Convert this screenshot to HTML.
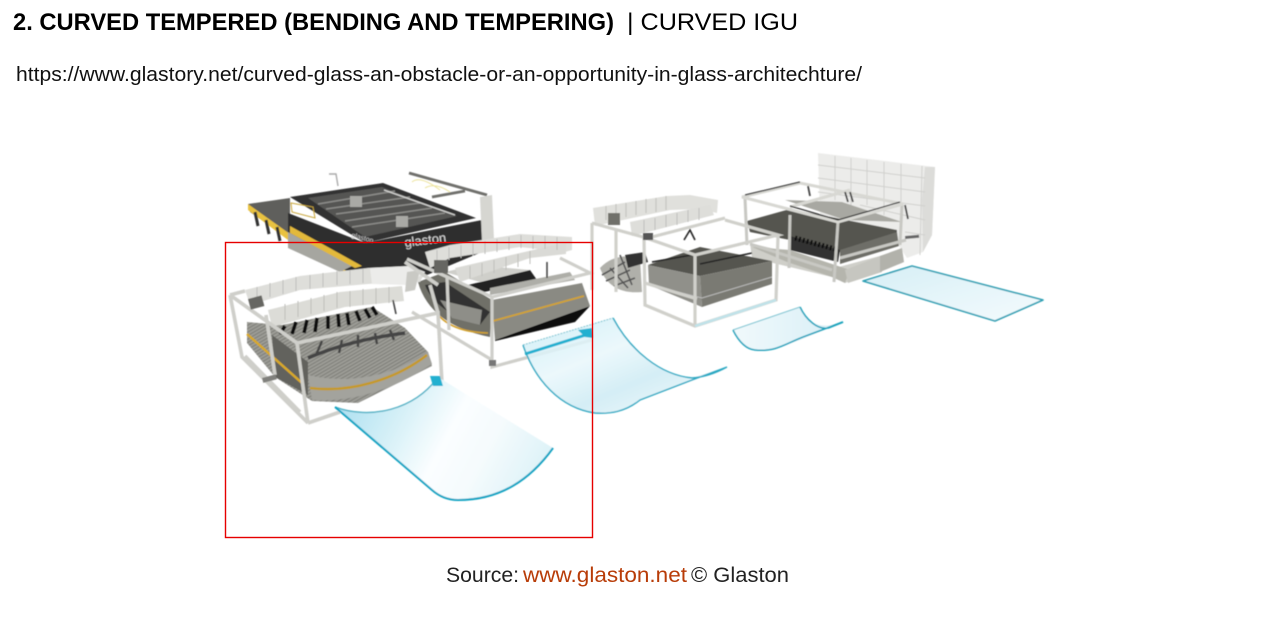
<!DOCTYPE html>
<html>
<head>
<meta charset="utf-8">
<style>
html,body{margin:0;padding:0;background:#fff;width:1280px;height:643px;overflow:hidden}
svg{display:block}
</style>
</head>
<body>
<svg width="1280" height="643" viewBox="0 0 1280 643" xmlns="http://www.w3.org/2000/svg">
<defs>
<filter id="b" x="-5%" y="-5%" width="110%" height="110%"><feGaussianBlur stdDeviation="0.4"/></filter>
<linearGradient id="g1" x1="0" y1="0.2" x2="1" y2="0.5"><stop offset="0" stop-color="#a9def0"/><stop offset=".3" stop-color="#d5f0f7"/><stop offset=".55" stop-color="#fbfeff"/><stop offset=".75" stop-color="#f5fbfd"/><stop offset="1" stop-color="#dff3f8"/></linearGradient>
<linearGradient id="g2" x1="0" y1="0" x2="0.9" y2="1"><stop offset="0" stop-color="#c6ebf5"/><stop offset=".4" stop-color="#e9f7fb"/><stop offset=".65" stop-color="#cdebf4"/><stop offset="1" stop-color="#f2fafc"/></linearGradient>
<linearGradient id="g3" x1="0" y1="0" x2="1" y2="1"><stop offset="0" stop-color="#d6eff6"/><stop offset="1" stop-color="#f4fbfd"/></linearGradient>
<linearGradient id="g4" x1="0" y1="0" x2="1" y2="0"><stop offset="0" stop-color="#f0f9fb"/><stop offset=".5" stop-color="#e4f4f9"/><stop offset="1" stop-color="#d9eff6"/></linearGradient>
<pattern id="fine" width="3" height="3" patternUnits="userSpaceOnUse" patternTransform="rotate(60)"><rect width="3" height="3" fill="#9c9c96"/><rect width="1" height="3" fill="#7d7d77"/></pattern>
</defs>

<g filter="url(#b)">
<!-- MACHINE 4 wall -->
<polygon points="818,153 935,167 932,235 923,252 907,258 895,240 820,215" fill="#ececea"/>
<polygon points="925,167 935,167 932,235 923,252 922,200" fill="#dcdcd9"/>
<g stroke="#d0d0cd" stroke-width="1" fill="none">
<path d="M818,165 L925,178 M818,178 L925,192 M818,192 L925,206 M860,205 L925,220 M905,232 L925,235"/>
<path d="M835,156 L835,200 M851,158 L851,205 M867,160 L867,205 M884,162 L884,215 M901,164 L901,240 M922,166 L920,255"/>
</g>

<!-- MACHINE 4 -->
<polygon points="750,243 787,252 835,268 902,250 902,263 845,283 832,277 752,258" fill="#cfcfc9"/>
<polygon points="752,247 787,262 832,277 845,283 850,270 790,250" fill="#b5b5ad"/>
<polygon points="845,270 880,256 882,272 848,283" fill="#c6c6c0"/>
<polygon points="880,256 902,248 904,262 880,272" fill="#b2b2ab"/>
<polygon points="747,221 790,209 897,230 897,246 840,252 790,240 750,232" fill="#55554f"/>
<polygon points="790,236 840,250 838,262 790,250" fill="#333330"/>
<polygon points="840,250 897,232 899,246 840,264" fill="#6e6e68"/>
<polygon points="785,200 842,202 902,222 845,220" fill="#a8a8a2"/>
<path d="M795,238 L835,249" stroke="#111" stroke-width="5" stroke-dasharray="2 2" fill="none"/>
<g stroke="#c8c8c3" stroke-width="3" fill="none">
<path d="M745,198 L747,245 M790,215 L789,268 M838,222 L834,282 M902,204 L900,245"/>
<path d="M750,244 L832,270 M840,258 L906,240"/>
</g>
<g stroke="#d8d8d3" stroke-width="3" fill="none">
<path d="M742,197 L800,183 L903,204 L838,222 Z"/>
<path d="M790,207 L850,190"/>
</g>
<path d="M745,195 L800,182 M838,220 L900,202 M790,206 L838,220" stroke="#333" stroke-width="1.2" fill="none"/>
<path d="M808,186 l2,10 M845,192 l3,10 M850,192 l3,10 M905,205 l3,14" stroke="#444" stroke-width="1.8" fill="none"/>
<rect x="905" y="236" width="14" height="3" fill="#666" transform="rotate(-5 905 236)"/>

<!-- MACHINE 3 -->
<path d="M600,268 Q615,252 640,258 L642,292 Q610,295 600,268 Z" fill="#b0b0aa"/>
<path d="M602,275 L625,262 M606,281 L630,270 M614,286 L635,278 M620,255 L632,285 M610,268 L628,288" stroke="#555" stroke-width="1.6" fill="none"/>
<polygon points="625,255 645,252 648,262 628,268" fill="#333"/>
<polygon points="648,265 700,247 772,261 700,276" fill="#55554f"/>
<polygon points="648,265 700,276 702,307 649,285" fill="#90908a"/>
<polygon points="700,276 772,261 772,284 702,307" fill="#7a7a73"/>
<path d="M652,262 L720,250 M700,264 L752,253" stroke="#222" stroke-width="1.6" fill="none"/>
<path d="M650,285 L702,298 L772,277" stroke="#bbb" stroke-width="1" fill="none"/>
<polygon points="593,208 667,196 690,195 718,200 717,213 700,209 670,210 595,226" fill="#e0e0dc"/>
<polygon points="630,222 710,205 714,215 632,236" fill="#dededa"/>
<path d="M606,206v14M616,204v14M626,203v14M636,201v14M646,199v14M656,198v14M666,196v14M644,220v12M655,218v12M666,215v12M677,213v12M688,210v12M699,208v12" stroke="#bfbfbb" stroke-width="1"/>
<g stroke="#d0d0cb" stroke-width="3.2" fill="none">
<path d="M592,223 L643,237 L695,255 L778,235 L725,220"/>
<path d="M644,237 L645,305 L695,326 L776,300 L778,236"/>
<path d="M695,255 L695,326"/>
<path d="M616,230 L616,292 M592,223 L592,290"/>
<path d="M648,238 L725,218"/>
<path d="M645,283 L697,299"/>
</g>
<path d="M695,326 L776,300" stroke="#bfe3ea" stroke-width="2.4" fill="none"/>
<rect x="608" y="213" width="12" height="12" fill="#6f6f6a"/>
<rect x="643" y="233" width="10" height="7" fill="#555"/>
<path d="M684,240 L690,230 L695,240" stroke="#222" stroke-width="1.6" fill="none"/>

<!-- FURNACE -->
<polygon points="248,204 290,198 290,235 355,268 340,272 288,238 250,212" fill="#5e5e5b"/>
<polygon points="248,204 290,234 360,270 345,272 288,240 248,210" fill="#e9c23f"/>
<path d="M255,212 l3,14 M266,220 l3,14 M277,227 l3,14" stroke="#333" stroke-width="3" fill="none"/>
<polygon points="288,213 288,236 365,282 415,280 482,252 482,220 365,243" fill="#2f2f2f"/>
<polygon points="288,232 352,266 340,272 288,248" fill="#a6a6a0"/>
<polygon points="290,233 355,268 362,266 290,226" fill="#e3b93b"/>
<polygon points="290,197 383,183 476,218 365,243" fill="#333333"/>
<polygon points="308,198 382,187 457,216 365,237" fill="#555553"/>
<g stroke="#8b8b88" stroke-width="1.5" fill="none">
<path d="M318,204 L395,191 M326,209 L410,197 M336,214 L420,203 M345,221 L432,208 M352,227 L445,213"/>
</g>
<path d="M384,190 L455,215" stroke="#d4d4d2" stroke-width="1.4"/>
<rect x="350" y="196" width="12" height="11" fill="#a9a9a5"/>
<rect x="396" y="216" width="12" height="11" fill="#a9a9a5"/>
<path d="M291,203 L313,207 L315,218 L292,212 Z" fill="none" stroke="#c7a437" stroke-width="1"/>
<path d="M329,174 l7,0 l2,12" stroke="#aaa" stroke-width="1.4" fill="none"/>
<path d="M409,173 L487,195 M432,197 L465,191" stroke="#6f6f6c" stroke-width="2.8" fill="none"/>
<polygon points="480,197 492,195 494,240 482,242" fill="#d6d6d1"/>
<path d="M412,182 Q420,175 440,190 M425,188 Q435,182 450,192" stroke="#ece39b" stroke-width="1" fill="none"/>
<text x="405" y="247" font-family="Liberation Sans, sans-serif" font-size="13" fill="#d8d8d8" transform="rotate(-7 405 247)">glaston</text>
<text x="351" y="237" font-family="Liberation Sans, sans-serif" font-size="7" fill="#c8c8c8" transform="rotate(15 351 237)">glaston</text>

<!-- MACHINE 2 -->
<path d="M418,282 Q430,325 490,337 L492,300 L445,272 Z" fill="#6f6f68"/>
<path d="M425,285 Q435,312 480,325 L490,312 L445,282 Z" fill="#333330"/>
<path d="M440,300 L482,310 L480,325 L452,318 Z" fill="#8e8e88"/>
<path d="M436,312 Q450,332 488,333" stroke="#d3a32f" stroke-width="1.6" fill="none"/>
<polygon points="492,300 582,283 590,306 495,340" fill="#8a8a83"/>
<polygon points="495,340 590,306 575,322 495,341" fill="#0c0c0c"/>
<path d="M493,321 L584,296" stroke="#d3a32f" stroke-width="1.8" fill="none"/>
<polygon points="468,285 530,270 537,280 480,293" fill="#222"/>
<polygon points="445,272 475,265 530,270 480,282" fill="#cfcfca"/>
<polygon points="490,295 575,280 570,272 490,288" fill="#aeaea8"/>
<polygon points="425,252 450,245 520,234 572,237 572,250 565,252 520,247 450,258 430,268" fill="#dededa"/>
<polygon points="455,268 555,245 566,243 566,254 530,258 460,282" fill="#dadad6"/>
<path d="M437,250v13M449,247v13M461,245v13M473,243v13M485,241v13M497,239v13M509,237v13M521,235v13M533,236v13M545,236v13M557,237v13M470,266v13M482,263v13M494,260v13M506,257v13M518,254v13M530,251v13" stroke="#bfbfbb" stroke-width="1"/>
<g stroke="#cfcfca" stroke-width="3.2" fill="none">
<path d="M407,259 L492,297 L590,273 L560,258"/>
<path d="M492,297 L492,367 L592,340"/>
<path d="M412,312 L492,360"/>
<path d="M447,276 L449,330"/>
</g>
<path d="M547,262 L547,278" stroke="#333" stroke-width="1.4"/>
<rect x="434" y="260" width="14" height="13" fill="#666662"/>
<rect x="489" y="360" width="7" height="6" fill="#777"/>

<!-- MACHINE 1 -->
<polygon points="247,322 282,325 372,307 405,328 428,352 432,366 358,403 312,401 275,377 247,343" fill="url(#fine)"/>
<path d="M312,400 C360,403 400,385 432,364 L428,352 C395,375 350,385 308,375 Z" fill="#a3a39d"/>
<path d="M308,358 Q350,340 405,333" stroke="#444" stroke-width="3.5" fill="none"/>
<polygon points="272,335 308,362 308,395 275,377" fill="#62625d"/>
<path d="M247,334 L302,383" stroke="#d9a928" stroke-width="2.4" fill="none"/>
<path d="M310,388 C350,393 395,380 427,355" stroke="#c59a2a" stroke-width="2.6" fill="none"/>
<g stroke="#111" stroke-width="3.6" fill="none">
<path d="M285,326 l-5,8 M296,322 l-4,12 M307,320 l-3,13 M317,318 l-2,14 M328,316 l0,13 M338,314 l1,13 M347,313 l2,12 M356,311 l4,10 M365,309 l5,9 M372,307 l5,8"/>
</g>
<g stroke="#444" stroke-width="2.4" fill="none">
<path d="M322,341 l-6,14 M342,340 l-3,13 M358,335 l0,12 M375,333 l2,11 M390,330 l4,10"/>
</g>
<polygon points="245,290 300,276 368,268 410,266 425,272 420,282 395,282 368,284 300,290 250,305" fill="#dededa"/>
<polygon points="268,310 340,292 402,286 404,301 345,307 272,327" fill="#dcdcd7"/>
<polygon points="370,268 410,266 425,272 408,285 372,284" fill="#ececea"/>
<path d="M257,287v14M270,283v14M283,280v14M296,277v14M310,275v14M323,273v14M337,271v14M350,270v14M363,269v14M285,304v16M298,301v16M311,298v16M324,295v16M337,292v16M350,291v16M363,289v16M376,288v16M389,287v16" stroke="#bfbfbb" stroke-width="1"/>
<polygon points="407,272 420,270 415,290 405,292" fill="#c9c9c4"/>
<g stroke="#cfcfca" stroke-width="3.6" fill="none">
<path d="M230,295 L245,291 M230,295 L242,357 L308,423 M230,295 L297,343"/>
<path d="M297,343 L308,423 M297,343 L438,313 L442,383"/>
<path d="M308,423 L340,412"/>
<path d="M266,315 L275,375"/>
<path d="M405,262 L438,285 M430,285 L438,313"/>
<path d="M245,356 L300,412"/>
</g>
<rect x="248" y="299" width="14" height="11" fill="#666662" transform="rotate(-15 248 299)"/>
<rect x="262" y="378" width="14" height="5" fill="#80807b" transform="rotate(-15 262 378)"/>
<path d="M393,300 l3,14" stroke="#444" stroke-width="1.6"/>

<!-- GLASS 5 -->
<polygon points="863,281 912,266 1043,300 995,321" fill="url(#g3)" stroke="#2b9fb3" stroke-width="1.6" stroke-linejoin="round"/>

<!-- GLASS 4 -->
<path d="M733,330 L800,307 C806,324 822,330 843,322 L800,340 C785,345 776,352 755,350 C745,349 738,340 733,330 Z" fill="url(#g4)"/>
<path d="M733,330 L800,307" stroke="#7cc4d2" stroke-width="1" fill="none"/>
<path d="M800,307 C806,320 818,330 828,328 M843,322 L803,337 C785,344 776,352 755,350 C745,349 738,340 733,330" stroke="#1aa3bc" stroke-width="1.5" fill="none"/>
<path d="M843,322 L828,328" stroke="#1aa3bc" stroke-width="2" fill="none"/>

<!-- GLASS 2 -->
<path d="M523,345 L613,318 C630,350 660,375 692,378 L727,367 L692,381 L640,400 C625,412 610,414 595,413 C560,408 535,380 523,345 Z" fill="url(#g2)" fill-opacity=".85"/>
<path d="M525,354 L592,333" stroke="#22b0d0" stroke-width="3" fill="none"/>
<polygon points="578,330 592,328 593,338 585,337" fill="#22b0d0"/>
<path d="M523,345 L613,318" stroke="#7cc4d2" stroke-width="1" stroke-dasharray="2 1" fill="none"/>
<path d="M613,318 C630,350 660,375 692,378 C705,377 716,373 727,367 L692,380 L640,400 C625,412 610,414 595,413 C560,408 535,380 523,345" stroke="#2ca8c2" stroke-width="1.4" fill="none"/>

<!-- GLASS 1 -->
<path d="M335,407 C370,420 415,410 438,377 L553,448 C530,480 500,500 458,500 C448,500 440,497 432,490 Z" fill="url(#g1)"/>
<path d="M335,407 C370,420 415,410 438,377" stroke="#4fb0c4" stroke-width="1.4" fill="none"/>
<polygon points="430,376 440,376 443,386 433,386" fill="#22b0d0"/>
<path d="M335,407 L432,490 C440,497 448,500 458,500 C500,500 530,480 553,448" stroke="#11a3c2" stroke-width="2" fill="none"/>
</g>

<!-- Red rectangle -->
<rect x="225.5" y="242.5" width="367" height="295" fill="none" stroke="#e60000" stroke-width="1.4"/>

<!-- TEXT -->
<text x="13" y="30" font-family="'Liberation Sans',sans-serif" font-weight="700" font-size="24" fill="#000" textLength="601" lengthAdjust="spacingAndGlyphs">2. CURVED TEMPERED (BENDING AND TEMPERING)</text>
<text x="627" y="30" font-family="'Liberation Sans',sans-serif" font-size="24" fill="#000" textLength="171" lengthAdjust="spacingAndGlyphs">| CURVED IGU</text>
<text x="16" y="81" font-family="'Liberation Sans',sans-serif" font-size="20" fill="#111" textLength="846" lengthAdjust="spacingAndGlyphs">https://www.glastory.net/curved-glass-an-obstacle-or-an-opportunity-in-glass-architechture/</text>
<text x="446" y="582" font-family="'Liberation Sans',sans-serif" font-size="21" fill="#222" textLength="73" lengthAdjust="spacingAndGlyphs">Source:</text>
<text x="523" y="582" font-family="'Liberation Sans',sans-serif" font-size="21" fill="#b83c08" textLength="164" lengthAdjust="spacingAndGlyphs">www.glaston.net</text>
<text x="691" y="582" font-family="'Liberation Sans',sans-serif" font-size="21" fill="#222" textLength="98" lengthAdjust="spacingAndGlyphs">© Glaston</text>
</svg>
</body>
</html>
